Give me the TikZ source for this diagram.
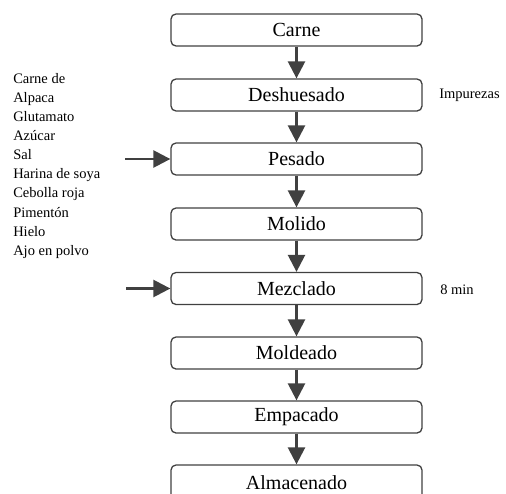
\documentclass[tikz,border=0pt]{standalone}
\usepackage{fontspec}
\setmainfont{Liberation Serif}
\usetikzlibrary{arrows.meta}
\definecolor{gris}{RGB}{64,64,64}

\begin{document}
\begin{tikzpicture}[x=1pt,y=-1pt,-{Triangle[width=17pt,length=17pt]},line width=2.5pt,draw=gris]
        \tikzset{paso/.style={shape=rectangle,rounded corners=5pt,draw=gris,line width=1.3pt,
                minimum width=251pt,minimum height=32pt,inner sep=0pt,font=\fontsize{20}{22}\selectfont}}
        \tikzset{nota/.style={inner sep=0pt,font=\fontsize{14.5}{17}\selectfont}}
        \useasboundingbox (0,0) rectangle (506,493);

        \node[paso] (carne)      at (296.5,30)  {Carne};
        \node[paso] (deshuesado) at (296.5,95)  {Deshuesado};
        \node[paso] (pesado)     at (296.5,159) {Pesado};
        \node[paso] (molido)     at (296.5,224) {Molido};
        \node[paso] (mezclado)   at (296.5,288.5) {Mezclado};
        \node[paso] (moldeado)   at (296.5,353) {Moldeado};
        \node[paso] (empacado)   at (296.5,417) {Empacado};
        \node[paso,minimum height=36pt] (almacenado) at (296.5,483) {Almacenado};

        \node[nota,anchor=west] (impurezas) at (438,95)  {Impurezas};
        \node[nota,anchor=west] (tiempo)    at (439,290) {8 min};
        \node[inner sep=0pt,anchor=north west,align=left,font=\fontsize{14.5}{19.1}\selectfont] (insumos) at (12,72)
            {Carne de\\ Alpaca\\ Glutamato\\ Azúcar\\ Sal\\ Harina de soya\\ Cebolla roja\\ Pimentón\\ Hielo\\ Ajo en polvo};

        \coordinate (inpesado)   at (125,159);
        \coordinate (inmezclado) at (126,288.5);

        \path (carne) edge (deshuesado);
        \path (deshuesado) edge (pesado);
        \path (pesado) edge (molido);
        \path (molido) edge (mezclado);
        \path (mezclado) edge (moldeado);
        \path (moldeado) edge (empacado);
        \path (empacado) edge (almacenado);
        \path (inpesado) edge (pesado);
        \path (inmezclado) edge (mezclado);
    \end{tikzpicture}
\end{document}
